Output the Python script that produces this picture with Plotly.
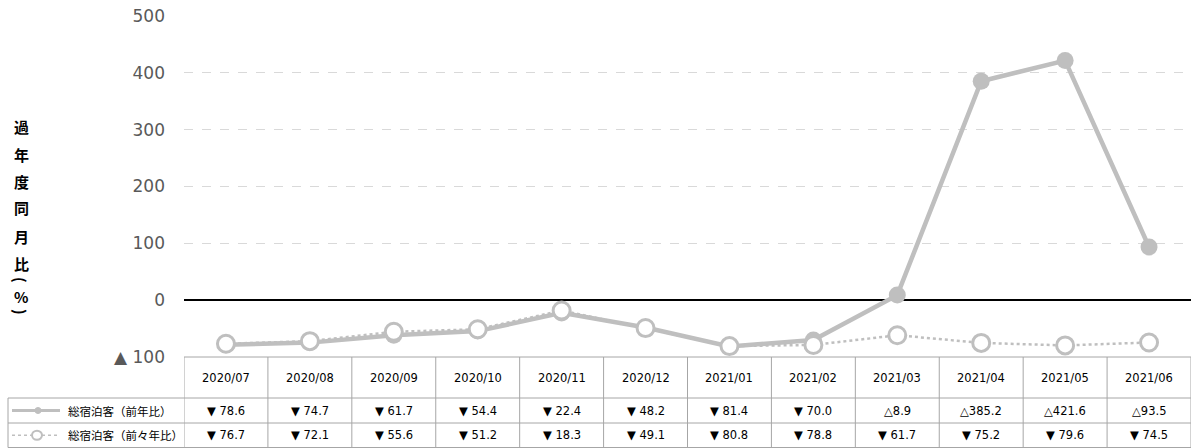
import plotly.graph_objects as go

# ---- data ----
months = ["2020/07", "2020/08", "2020/09", "2020/10", "2020/11", "2020/12",
          "2021/01", "2021/02", "2021/03", "2021/04", "2021/05", "2021/06"]
series1_name = "総宿泊客（前年比）"
series1 = [-78.6, -74.7, -61.7, -54.4, -22.4, -48.2, -81.4, -70.0, 8.9, 385.2, 421.6, 93.5]
series2_name = "総宿泊客（前々年比）"
series2 = [-76.7, -72.1, -55.6, -51.2, -18.3, -49.1, -80.8, -78.8, -61.7, -75.2, -79.6, -74.5]
y_tickvals = [-100, 0, 100, 200, 300, 400, 500]
y_ticktext = ["▲ 100", "0", "100", "200", "300", "400", "500"]
y_title_chars = ["過", "年", "度", "同", "月", "比", "(", "%", ")"]

# ---- layout geometry (pixels) ----
W, H = 1192, 448
L, R, T, B = 184, 1, 16, 91
PW, PH = W - L - R, H - T - B
def px(x):
    return (x - L) / PW
def py(y):
    return (H - B - y) / PH

GRAY = "#bfbfbf"
LINE = "#a6a6a6"
FONT = "DejaVu Sans, Verdana, sans-serif"
CJK = "Noto Sans CJK JP, sans-serif"

fig = go.Figure()
fig.add_trace(go.Scatter(
    x=list(range(len(months))), y=series1, mode="lines+markers", name=series1_name,
    line=dict(color=GRAY, width=4.5),
    marker=dict(size=17, color=GRAY, line=dict(width=0)),
    showlegend=False))
fig.add_trace(go.Scatter(
    x=list(range(len(months))), y=series2, mode="lines+markers", name=series2_name,
    line=dict(color=GRAY, width=2.5, dash="dot"),
    marker=dict(size=17, color="white", line=dict(color=GRAY, width=3)),
    showlegend=False))

def fmt(v):
    return ("▼ " + f"{abs(v):.1f}") if v < 0 else ("△" + f"{v:.1f}")

shapes = []
annotations = []
n = len(months)
y_head_top, y_head_bot, y_r1_bot, y_r2_bot = 357, 398, 423, 447.5
# vertical column lines
for i in range(n + 1):
    shapes.append(dict(type="line", xref="x", yref="paper", x0=i - 0.5, x1=i - 0.5,
                       y0=py(y_head_top), y1=py(y_r2_bot), line=dict(color=LINE, width=1)))
# header top line
shapes.append(dict(type="line", xref="x", yref="paper", x0=-0.5, x1=n - 0.5,
                   y0=py(y_head_top), y1=py(y_head_top), line=dict(color=LINE, width=1)))
# row lines spanning label column
for yy in (y_head_bot, y_r1_bot, y_r2_bot):
    shapes.append(dict(type="line", xref="paper", yref="paper", x0=px(8), x1=1,
                       y0=py(yy), y1=py(yy), line=dict(color=LINE, width=1)))
shapes.append(dict(type="line", xref="paper", yref="paper", x0=px(8), x1=px(8),
                   y0=py(y_head_bot), y1=py(y_r2_bot), line=dict(color=LINE, width=1)))

# legend glyphs in label column
r1c = (y_head_bot + y_r1_bot) / 2
r2c = (y_r1_bot + y_r2_bot) / 2
shapes.append(dict(type="line", xref="paper", yref="paper", x0=px(12), x1=px(60),
                   y0=py(r1c), y1=py(r1c), line=dict(color=GRAY, width=3)))
shapes.append(dict(type="circle", xref="paper", yref="paper", x0=px(35), x1=px(41),
                   y0=py(r1c + 3), y1=py(r1c - 3), fillcolor=GRAY, line=dict(color=GRAY, width=1)))
shapes.append(dict(type="line", xref="paper", yref="paper", x0=px(12), x1=px(60),
                   y0=py(r2c), y1=py(r2c), line=dict(color=GRAY, width=1.5, dash="dot")))
shapes.append(dict(type="circle", xref="paper", yref="paper", x0=px(32), x1=px(42),
                   y0=py(r2c + 4.5), y1=py(r2c - 4.5), fillcolor="white", line=dict(color=GRAY, width=2)))

for name, yc in ((series1_name, r1c), (series2_name, r2c)):
    annotations.append(dict(xref="paper", yref="paper", x=px(66), y=py(yc), text=name,
                            xanchor="left", yanchor="middle", showarrow=False,
                            font=dict(family=CJK, size=11.5, color="#000")))

hc = (y_head_top + y_head_bot) / 2
for i, m in enumerate(months):
    annotations.append(dict(xref="x", yref="paper", x=i, y=py(hc), text=m, showarrow=False,
                            xanchor="center", yanchor="middle", font=dict(family=FONT, size=11.5, color="#000")))
    annotations.append(dict(xref="x", yref="paper", x=i, y=py(r1c), text=fmt(series1[i]), showarrow=False,
                            xanchor="center", yanchor="middle", font=dict(family=FONT, size=11.5, color="#000")))
    annotations.append(dict(xref="x", yref="paper", x=i, y=py(r2c), text=fmt(series2[i]), showarrow=False,
                            xanchor="center", yanchor="middle", font=dict(family=FONT, size=11.5, color="#000")))

# vertical y-axis title
title_y = [126, 154, 181, 208, 236, 263, 280, 296, 312]
for ch, yy in zip(y_title_chars, title_y):
    rot = 90 if ch in ("(", ")") else 0
    annotations.append(dict(xref="paper", yref="paper", x=px(21), y=py(yy), text="<b>" + ch + "</b>",
                            showarrow=False, xanchor="center", yanchor="middle", textangle=rot,
                            font=dict(family=CJK, size=15, color="#000")))

fig.update_layout(
    width=W, height=H, margin=dict(l=L, r=R, t=T, b=B),
    paper_bgcolor="white", plot_bgcolor="white",
    xaxis=dict(range=[-0.5, n - 0.5], showticklabels=False, showgrid=False, zeroline=False,
               showline=False, ticks=""),
    yaxis=dict(range=[-100, 500], tickvals=y_tickvals, ticktext=y_ticktext,
               showgrid=True, gridcolor="#d9d9d9", griddash="dash", gridwidth=1,
               zeroline=True, zerolinecolor="#000", zerolinewidth=1.5,
               tickfont=dict(family=FONT, size=17, color="#595959"),
               ticklabelstandoff=18, showline=False, ticks=""),
    shapes=shapes, annotations=annotations,
)
fig.write_html("out.html", config={"displayModeBar": False},
               post_script="document.body.style.margin='0';document.body.style.overflow='hidden';")
